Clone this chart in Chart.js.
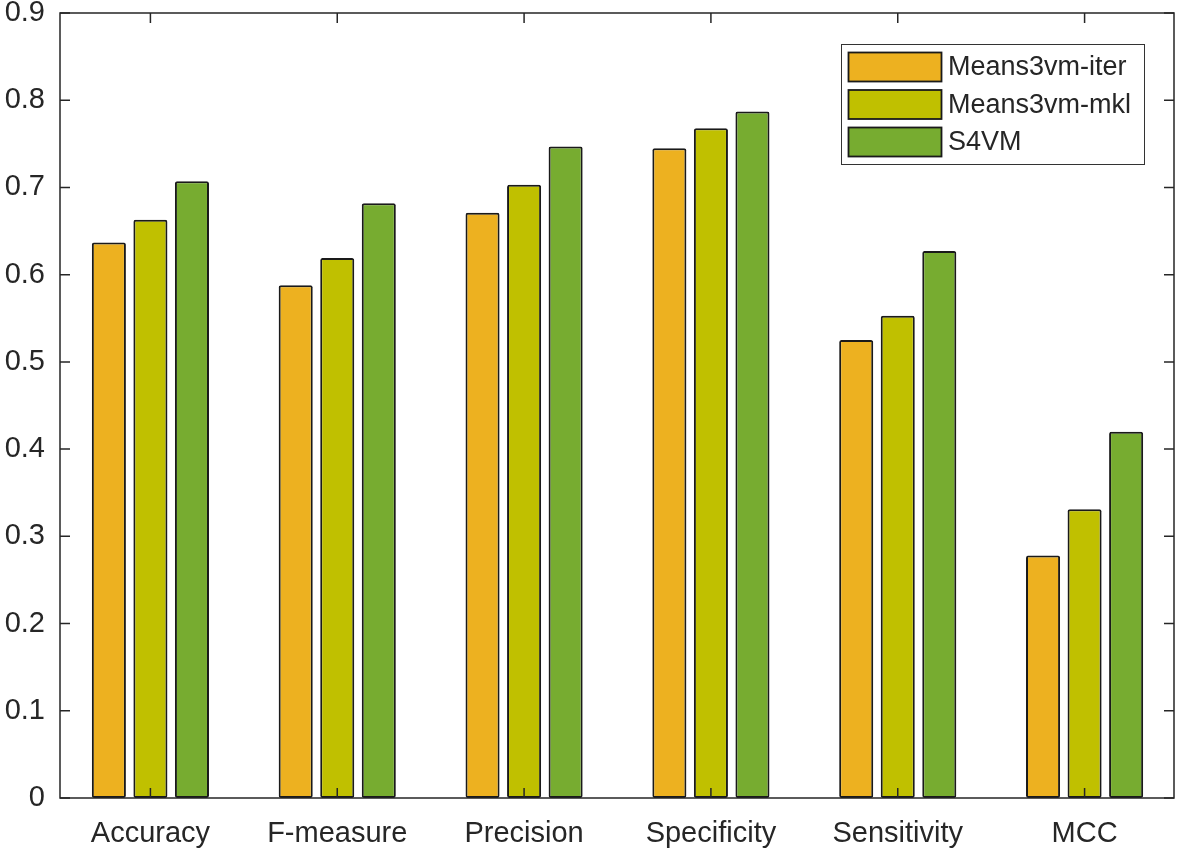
<!DOCTYPE html>
<html>
<head>
<meta charset="utf-8">
<script src="https://cdn.jsdelivr.net/npm/chart.js@4/dist/chart.umd.min.js"></script>
<style>
html,body{margin:0;padding:0;background:#fff;}
#wrap{width:1181px;height:854px;}
</style>
</head>
<body>
<div id="wrap"><canvas id="c" width="1181" height="854"></canvas></div>
<script>
const categories = ['Accuracy', 'F-measure', 'Precision', 'Specificity', 'Sensitivity', 'MCC'];
const seriesNames = ['Means3vm-iter', 'Means3vm-mkl', 'S4VM'];
const iterValues = [0.637, 0.588, 0.671, 0.745, 0.525, 0.278];
const mklValues = [0.663, 0.619, 0.703, 0.768, 0.553, 0.331];
const s4vmValues = [0.707, 0.682, 0.747, 0.787, 0.627, 0.420];
const yTicks = [0, 0.1, 0.2, 0.3, 0.4, 0.5, 0.6, 0.7, 0.8, 0.9];
const colors = ['#EDB120', '#C0C000', '#77AC30'];

const AXIS = '#262626';
const FONT = 'Liberation Sans, Arial, sans-serif';

const boxPlugin = {
  id: 'box',
  afterDatasetsDraw(chart) {
    const ctx = chart.ctx;
    const a = chart.chartArea;
    const xs = chart.scales.x, ys = chart.scales.y;
    const L = a.left + 3, R = a.right - 4, T = a.top, B = a.bottom;
    ctx.save();
    ctx.strokeStyle = AXIS;
    ctx.lineWidth = 1.5;
    ctx.beginPath();
    ctx.rect(L, T, R - L, B - T);
    ctx.stroke();
    ctx.beginPath();
    const tl = 10;
    yTicks.forEach(v => {
      const y = ys.getPixelForValue(v);
      ctx.moveTo(L, y); ctx.lineTo(L + tl, y);
      ctx.moveTo(R, y); ctx.lineTo(R - tl, y);
    });
    categories.forEach((c, i) => {
      const x = xs.getPixelForValue(i);
      ctx.moveTo(x, B); ctx.lineTo(x, B - tl);
      ctx.moveTo(x, T); ctx.lineTo(x, T + tl);
    });
    ctx.stroke();

    // legend
    const lx = 841.5, ly = 44.5, lw = 303, lh = 120;
    ctx.fillStyle = '#fff';
    ctx.fillRect(lx, ly, lw, lh);
    ctx.strokeStyle = '#333';
    ctx.lineWidth = 1;
    ctx.strokeRect(lx, ly, lw, lh);
    ctx.font = '27px ' + FONT;
    ctx.textBaseline = 'middle';
    ctx.textAlign = 'left';
    seriesNames.forEach((n, i) => {
      const cy = 67 + i * 37.5;
      ctx.fillStyle = colors[i];
      ctx.fillRect(848.5, cy - 14.5, 93, 29);
      ctx.strokeStyle = '#1a1a1a';
      ctx.lineWidth = 1.8;
      ctx.strokeRect(848.5, cy - 14.5, 93, 29);
      ctx.fillStyle = AXIS;
      ctx.fillText(n, 948, cy + 1);
    });
    ctx.restore();
  }
};

const values = [iterValues, mklValues, s4vmValues];
new Chart(document.getElementById('c'), {
  type: 'bar',
  data: {
    labels: categories,
    datasets: seriesNames.map((n, i) => ({
      label: n,
      data: values[i],
      backgroundColor: colors[i],
      borderColor: '#1a1a1a',
      borderWidth: 2,
      borderSkipped: false,
      borderRadius: 2,
      categoryPercentage: 0.667,
      barPercentage: 0.82
    }))
  },
  options: {
    responsive: false,
    animation: false,
    devicePixelRatio: 1,
    layout: { padding: { top: 13, right: 3, left: 0, bottom: 0 } },
    plugins: { legend: { display: false }, tooltip: { enabled: false } },
    scales: {
      x: {
        grid: { display: false, drawTicks: false },
        border: { display: false },
        ticks: { color: AXIS, font: { family: FONT, size: 29 }, padding: 19, maxRotation: 0 },
        afterFit(s) { s.height = 56; s.paddingLeft = 0; s.paddingRight = 0; }
      },
      y: {
        min: 0, max: 0.9,
        grid: { display: false, drawTicks: false },
        border: { display: false },
        ticks: {
          stepSize: 0.1,
          color: AXIS,
          font: { family: FONT, size: 29 },
          padding: 12,
          callback: v => (Math.abs(v) < 1e-9 ? '0' : v.toFixed(1))
        },
        afterFit(s) { s.width = 57; s.paddingTop = 0; s.paddingBottom = 0; }
      }
    }
  },
  plugins: [boxPlugin]
});
</script>
</body>
</html>
